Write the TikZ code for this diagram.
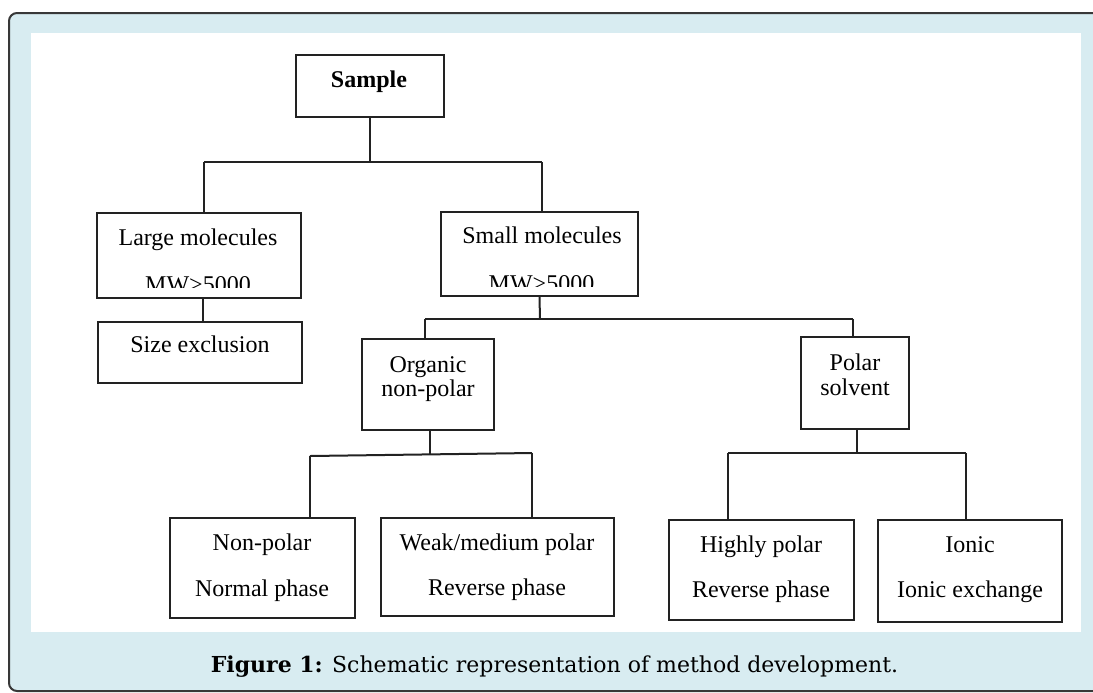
\documentclass[tikz,border=0pt]{standalone}
\usepackage{fontspec}
\setmainfont{Liberation Serif}
\newfontfamily\capfont{DejaVu Serif}
\definecolor{bgblue}{HTML}{D8ECF1}
\definecolor{edgec}{HTML}{383838}
\definecolor{linec}{HTML}{222222}
\begin{document}
\begin{tikzpicture}[x=0.5pt,y=-0.5pt,
  box/.style={draw=linec,line width=1pt,inner sep=0pt,fill=white},
  lbl/.style={anchor=base,inner sep=0pt,font=\fontsize{12}{14}\selectfont},
  conn/.style={draw=linec,line width=1pt}]
\useasboundingbox (0,0) rectangle (1093,692);
\clip (0,0) rectangle (1093,692);
\draw[edgec,line width=1pt,fill=bgblue,rounded corners=4pt] (9,13) rectangle (1120,691);
\fill[white] (31,33) rectangle (1081,632);
% boxes
\node[box,minimum width=74pt,minimum height=31pt] (sample) at (370,86) {};
\node[box,minimum width=102pt,minimum height=42.5pt] (large) at (199,255.5) {};
\node[box,minimum width=98.5pt,minimum height=42pt] (small) at (539.5,254) {};
\node[box,minimum width=102pt,minimum height=30.5pt] (size) at (200,352.5) {};
\node[box,minimum width=66pt,minimum height=45.5pt] (organic) at (428,384.5) {};
\node[box,minimum width=54pt,minimum height=46pt] (polar) at (855,383) {};
\node[box,minimum width=92.5pt,minimum height=50pt] (nonpolar) at (262.5,568) {};
\node[box,minimum width=116.5pt,minimum height=49pt] (weak) at (497.5,567) {};
\node[box,minimum width=92.5pt,minimum height=50pt] (highly) at (761.5,570) {};
\node[box,minimum width=92pt,minimum height=51pt] (ionic) at (970,571) {};
% connectors
\coordinate (j1) at (370,162); \coordinate (j1l) at (204,162); \coordinate (j1r) at (542,162);
\draw[conn] (sample.south) -- (j1);
\draw[conn] (j1l) -- (j1r);
\draw[conn] (j1l) -- (j1l |- large.north);
\draw[conn] (j1r) -- (j1r |- small.north);
\draw[conn] ([xshift=2pt]large.south) -- ([xshift=2pt]large.south |- size.north);
\coordinate (j3) at (540,319); \coordinate (j3l) at (425,319); \coordinate (j3r) at (853,319);
\draw[conn] (small.south) -- (j3);
\draw[conn] (j3l) -- (j3r);
\draw[conn] (j3l) -- (j3l |- organic.north);
\draw[conn] (j3r) -- (j3r |- polar.north);
\coordinate (j4) at (430,455); \coordinate (j4l) at (310,456); \coordinate (j4r) at (532,453);
\draw[conn] (j4 |- organic.south) -- (j4);
\draw[conn] (j4l) -- (j4r);
\draw[conn] (j4l) -- (j4l |- nonpolar.north);
\draw[conn] (j4r) -- (j4r |- weak.north);
\coordinate (j5) at (857,453); \coordinate (j5l) at (728,453); \coordinate (j5r) at (966,453);
\draw[conn] (j5 |- polar.south) -- (j5);
\draw[conn] (j5l) -- (j5r);
\draw[conn] (j5l) -- (j5l |- highly.north);
\draw[conn] (j5r) -- (j5r |- ionic.north);
% texts
\node[lbl,font=\fontsize{12}{14}\selectfont\bfseries] (tsample) at (369,87) {Sample};
\node[lbl] (tlarge) at (198,245) {Large molecules};
\begin{scope}
\clip (97,200) rectangle (301,287);
\node[lbl] (tlargemw) at (198,292) {MW>5000};
\end{scope}
\node[lbl] (tsmall) at (542,243) {Small molecules};
\begin{scope}
\clip (441,200) rectangle (638,286);
\node[lbl] (tsmallmw) at (541.5,291) {MW>5000};
\end{scope}
\node[lbl] (tsize) at (200,352) {Size exclusion};
\node[lbl] (torg1) at (428,372) {Organic};
\node[lbl] (torg2) at (428,396) {non-polar};
\node[lbl] (tpol1) at (855,370) {Polar};
\node[lbl] (tpol2) at (855,395) {solvent};
\node[lbl] (tnp1) at (262,550) {Non-polar};
\node[lbl] (tnp2) at (262,596) {Normal phase};
\node[lbl] (tw1) at (497,550) {Weak/medium polar};
\node[lbl] (tw2) at (497,595) {Reverse phase};
\node[lbl] (th1) at (761,552) {Highly polar};
\node[lbl] (th2) at (761,597) {Reverse phase};
\node[lbl] (ti1) at (970,552) {Ionic};
\node[lbl] (ti2) at (970,597) {Ionic exchange};
\node[anchor=base,inner sep=0pt,font=\capfont\fontsize{11}{13}\selectfont] (caption) at (554.5,672) {\textbf{Figure 1:} Schematic representation of method development.};
\end{tikzpicture}
\end{document}
